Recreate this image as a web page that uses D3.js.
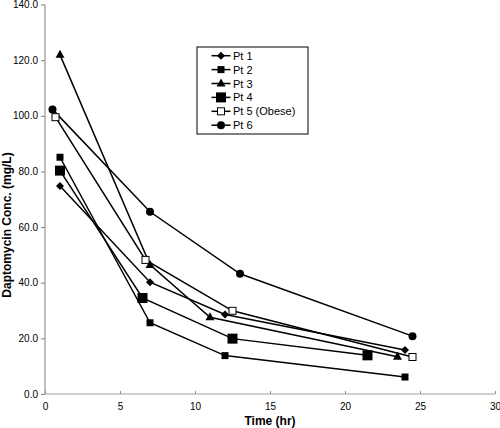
<!DOCTYPE html>
<html><head><meta charset="utf-8">
<script src="https://cdn.jsdelivr.net/npm/d3@7"></script>
<style>body{margin:0;background:#fff}svg{display:block}text{font-family:"Liberation Sans",Arial,sans-serif}</style>
</head><body>
<svg id="c" width="500" height="428"></svg>
<script>
const seriesNames = ["Pt 1","Pt 2","Pt 3","Pt 4","Pt 5 (Obese)","Pt 6"];
const pt1Time = [1.0, 7.0, 12.0, 24.0];
const pt1Conc = [74.8, 40.2, 28.6, 15.8];
const pt2Time = [1.0, 7.0, 12.0, 24.0];
const pt2Conc = [85.1, 25.6, 13.8, 6.1];
const pt3Time = [1.0, 7.0, 11.0, 23.5];
const pt3Conc = [121.9, 46.4, 27.6, 13.4];
const pt4Time = [1.0, 6.5, 12.5, 21.5];
const pt4Conc = [80.3, 34.5, 19.9, 13.9];
const pt5Time = [0.7, 6.7, 12.5, 24.5];
const pt5Conc = [99.5, 48.2, 29.9, 13.3];
const pt6Time = [0.5, 7.0, 13.0, 24.5];
const pt6Conc = [102.3, 65.5, 43.2, 20.8];
const xTicks = [0,5,10,15,20,25,30];
const yTicks = [0,20,40,60,80,100,120,140];

const series = [
  {name: seriesNames[0], t: pt1Time, c: pt1Conc, m: "diamond"},
  {name: seriesNames[1], t: pt2Time, c: pt2Conc, m: "square"},
  {name: seriesNames[2], t: pt3Time, c: pt3Conc, m: "triangle"},
  {name: seriesNames[3], t: pt4Time, c: pt4Conc, m: "bigsquare"},
  {name: seriesNames[4], t: pt5Time, c: pt5Conc, m: "opensquare"},
  {name: seriesNames[5], t: pt6Time, c: pt6Conc, m: "circle"}
];

const svg = d3.select("#c");
const x = d3.scaleLinear().domain([0,30]).range([45,495]);
const y = d3.scaleLinear().domain([0,140]).range([394,4.5]);

// axes
const yAxis = svg.append("g").attr("transform","translate(45,0)")
  .call(d3.axisLeft(y).tickValues(yTicks).tickSize(4).tickPadding(3).tickFormat(d3.format(".1f")));
yAxis.select(".domain").attr("stroke","#808080").attr("d","M0,"+y(0)+"V"+y(140));
yAxis.selectAll(".tick line").attr("stroke","#808080");
yAxis.selectAll("text").attr("font-size","10px").attr("fill","#000").attr("font-family","Liberation Sans, Arial, sans-serif");

const xAxis = svg.append("g").attr("transform","translate(0,394)")
  .call(d3.axisBottom(x).tickValues(xTicks).tickSize(-3).tickPadding(9).tickFormat(d3.format("d")));
xAxis.select(".domain").attr("stroke","#c0c0c0").attr("stroke-width",1.5).attr("d","M"+x(0)+",0H"+x(30));
xAxis.selectAll(".tick line").attr("stroke","#909090");
xAxis.selectAll("text").attr("font-size","10px").attr("fill","#000").attr("font-family","Liberation Sans, Arial, sans-serif");

svg.append("text").attr("x",270).attr("y",425).attr("text-anchor","middle")
  .attr("font-size","12px").attr("font-weight","bold").text("Time (hr)");
svg.append("text").attr("transform","translate(11,225) rotate(-90)").attr("text-anchor","middle")
  .attr("font-size","12px").attr("font-weight","bold").text("Daptomycin Conc. (mg/L)");

function drawMarker(g, type, cx, cy) {
  if (type === "diamond") {
    g.append("path").attr("d",`M${cx},${cy-4}L${cx+4},${cy}L${cx},${cy+4}L${cx-4},${cy}Z`).attr("fill","#000");
  } else if (type === "square") {
    g.append("rect").attr("x",cx-3.5).attr("y",cy-3.5).attr("width",7).attr("height",7).attr("fill","#000");
  } else if (type === "triangle") {
    g.append("path").attr("d",`M${cx},${cy-5}L${cx+4.5},${cy+3}L${cx-4.5},${cy+3}Z`).attr("fill","#000");
  } else if (type === "bigsquare") {
    g.append("rect").attr("x",cx-5).attr("y",cy-5).attr("width",10).attr("height",10).attr("fill","#000");
  } else if (type === "opensquare") {
    g.append("rect").attr("x",cx-3.5).attr("y",cy-3.5).attr("width",7).attr("height",7).attr("fill","#fff").attr("stroke","#000").attr("stroke-width",1);
  } else if (type === "circle") {
    g.append("circle").attr("cx",cx).attr("cy",cy).attr("r",4).attr("fill","#000");
  }
}

const line = d3.line().x(d=>x(d[0])).y(d=>y(d[1]));
series.forEach(s => {
  const pts = s.t.map((t,i)=>[t,s.c[i]]);
  const g = svg.append("g");
  g.append("path").attr("d",line(pts)).attr("fill","none").attr("stroke","#000").attr("stroke-width",1.5);
});
series.forEach(s => {
  const g = svg.append("g");
  s.t.forEach((t,i)=>drawMarker(g, s.m, x(t), y(s.c[i])));
});

// legend
const lg = svg.append("g");
lg.append("rect").attr("x",197).attr("y",47).attr("width",111).attr("height",87)
  .attr("fill","#fff").attr("stroke","#000").attr("stroke-width",1);
series.forEach((s,i) => {
  const ly = 55.7 + i*13.9;
  lg.append("line").attr("x1",211.5).attr("x2",230.5).attr("y1",ly).attr("y2",ly).attr("stroke","#000").attr("stroke-width",1.5);
  drawMarker(lg, s.m, 221, ly);
  lg.append("text").attr("x",233).attr("y",ly+4).attr("font-size","11px").text(s.name);
});
</script>
</body></html>
